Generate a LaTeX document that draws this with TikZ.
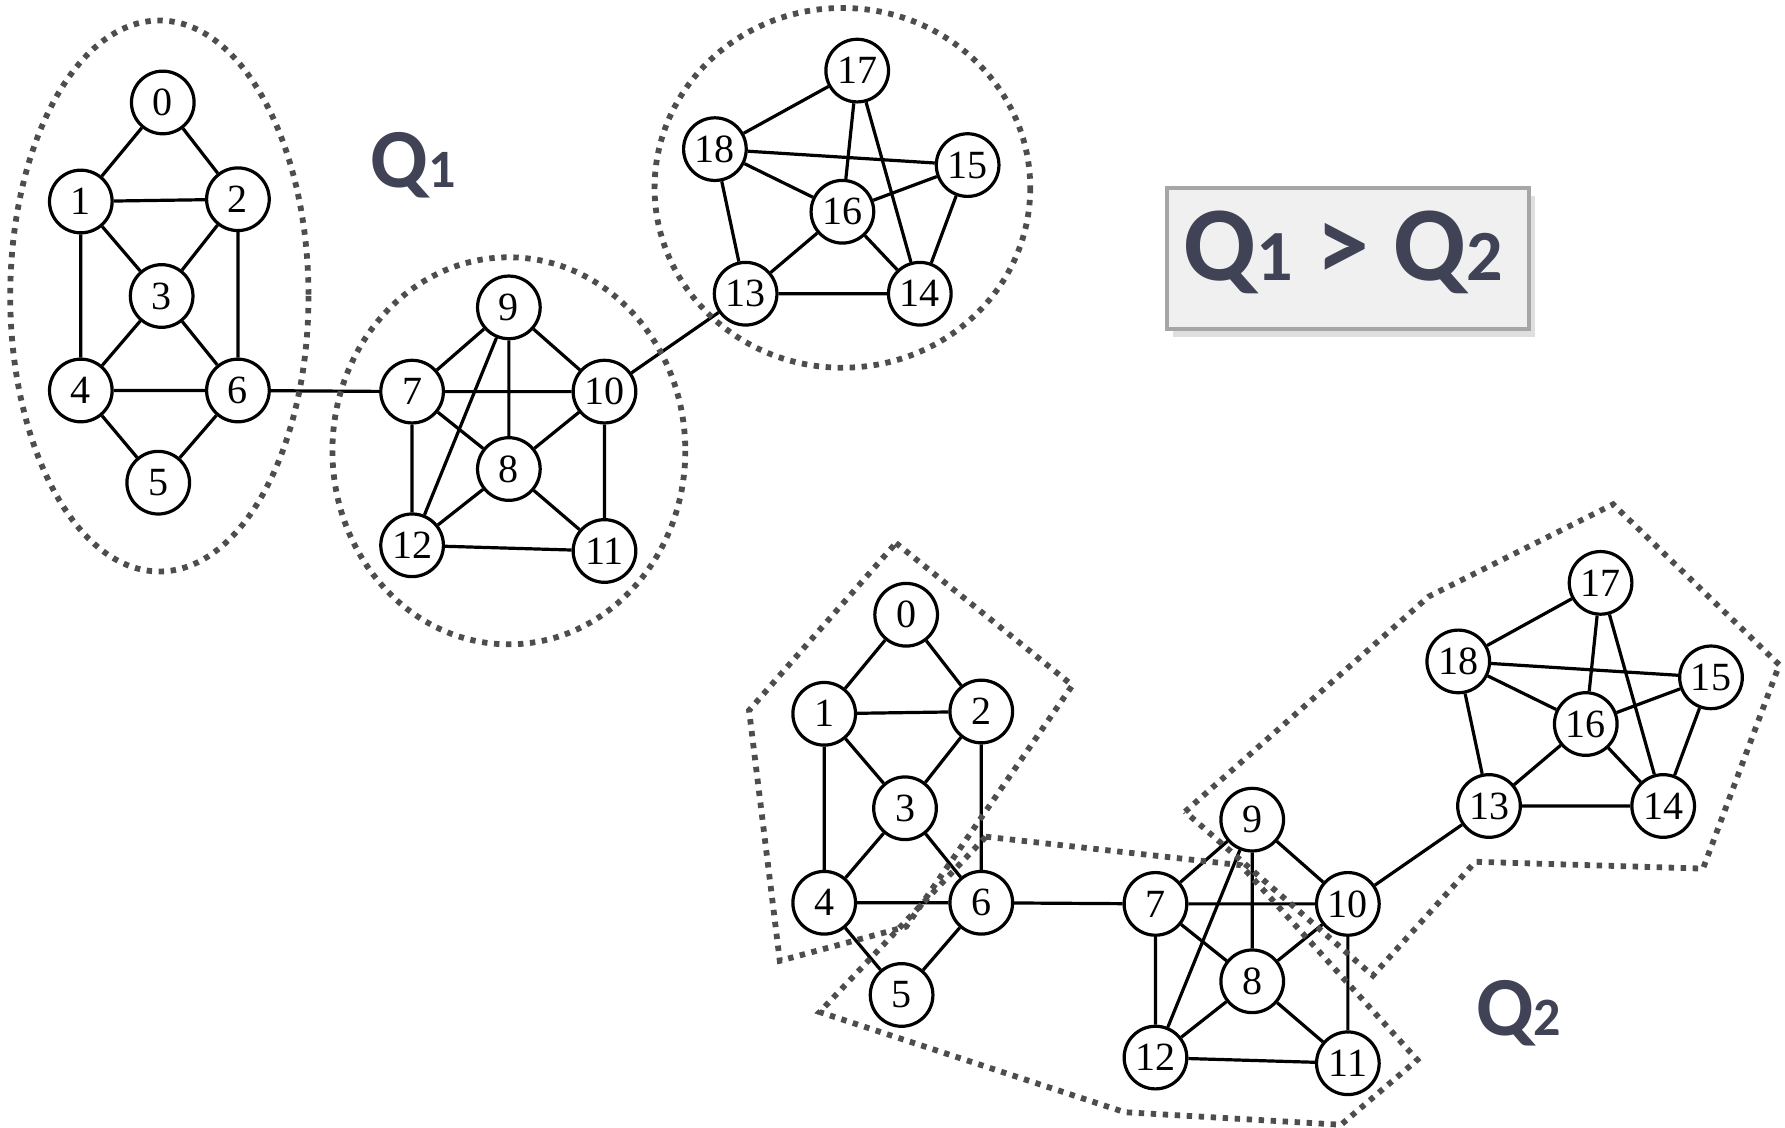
\documentclass[tikz,border=0pt]{standalone}
\usepackage{fontspec}
\setmainfont{Liberation Serif}
\newfontfamily\rotulo{Carlito}
\usepackage{xcolor}
\usetikzlibrary{shadows}

\definecolor{ardosia}{HTML}{404256}
\definecolor{tracejado}{HTML}{4D4D4D}
\definecolor{caixa}{HTML}{F0F0F0}
\definecolor{borda}{HTML}{A6A6A6}

% Grafo de 19 vertices (desenhado duas vezes)
\newcommand{\grafo}{%
  % Grupo 0 a 6
  \node[vertice] (v0) at (143,90) {0};
  \node[vertice] (v1) at (71,177) {1};
  \node[vertice] (v2) at (209,175) {2};
  \node[vertice] (v3) at (142,260) {3};
  \node[vertice] (v4) at (71,343) {4};
  \node[vertice] (v6) at (209,343) {6};
  \node[vertice] (v5) at (139,424) {5};
  \draw[aresta] (v0) -- (v1) -- (v4) -- (v5) -- (v6) -- (v2) -- (v0);
  \draw[aresta] (v1) -- (v2) -- (v3) -- (v1);
  \draw[aresta] (v3) -- (v4) -- (v6) -- (v3);
  % Grupo 7 a 12
  \node[vertice] (v9) at (447,270) {9};
  \node[vertice] (v7) at (362,344) {7};
  \node[vertice] (v10) at (531,344) {10};
  \node[vertice] (v8) at (447,412) {8};
  \node[vertice] (v12) at (362,479) {12};
  \node[vertice] (v11) at (531,484) {11};
  \draw[aresta] (v9) -- (v7) -- (v12) -- (v11) -- (v10) -- (v9) -- (v8) -- (v7) -- (v10) -- (v8) -- (v11);
  \draw[aresta] (v8) -- (v12) -- (v9);
  % Grupo 13 a 18
  \node[vertice] (v17) at (753,62) {17};
  \node[vertice] (v18) at (628,131) {18};
  \node[vertice] (v15) at (850,145) {15};
  \node[vertice] (v16) at (740,186) {16};
  \node[vertice] (v13) at (655,258) {13};
  \node[vertice] (v14) at (808,258) {14};
  \draw[aresta] (v17) -- (v18) -- (v13) -- (v14) -- (v15) -- (v18) -- (v16) -- (v17) -- (v14) -- (v16) -- (v13);
  \draw[aresta] (v16) -- (v15);
  % Ligacoes entre grupos
  \draw[aresta] (v6) -- (v7);
  \draw[aresta] (v10) -- (v13);
}

\begin{document}
\begin{tikzpicture}[x=0.01cm, y=-0.01cm,
  vertice/.style={circle, draw, line width=0.8pt, minimum size=0.55cm, inner sep=0pt, font=\fontsize{10}{10}\selectfont},
  aresta/.style={line width=0.8pt},
  regiao/.style={draw=tracejado, line width=1.45pt, dash pattern=on 1.35pt off 1.65pt},
  rotuloQ/.style={text=ardosia, font=\rotulo\bfseries, anchor=base west, inner sep=0pt}]

\useasboundingbox (0,0) rectangle (1568,990);

% Particao Q1
\begin{scope}[name prefix=a-]
  \grafo
\end{scope}
\draw[regiao] (140,260) ellipse [x radius=131, y radius=242];
\draw[regiao] (447,396) ellipse [x radius=155, y radius=170];
\draw[regiao] (740,165) ellipse [x radius=165, y radius=158];
\node[rotuloQ] (q1) at (325,165) {{\fontsize{21}{24}\selectfont Q}{\fontsize{13.5}{15}\selectfont 1}};

% Particao Q2
\begin{scope}[shift={(653,450)}, name prefix=b-]
  \grafo
\end{scope}
\draw[regiao] (787,477) -- (942,602) -- (796,814) -- (685,844) -- (658,624) -- cycle;
\draw[regiao] (866,735) -- (1090,760) -- (1245,931) -- (1178,988) -- (988,977) -- (720,889) -- cycle;
\draw[regiao] (1041,713) -- (1255,524) -- (1417,443) -- (1563,584) -- (1496,763) -- (1296,757) -- (1206,857) -- cycle;
\node[rotuloQ] (q2) at (1296,910) {{\fontsize{21}{24}\selectfont Q}{\fontsize{13.5}{15}\selectfont 2}};

% Caixa de comparacao
\draw[draw=borda, line width=0.9pt, fill=caixa, drop shadow={shadow xshift=1.5pt, shadow yshift=-2pt, opacity=0.25}] (1025,165) rectangle (1343,289);
\node[rotuloQ] (comp) at (1039,246) {{\fontsize{26.5}{30}\selectfont Q}{\fontsize{18}{20}\selectfont 1}{\fontsize{26.5}{30}\selectfont\ > Q}{\fontsize{18}{20}\selectfont 2}};

\end{tikzpicture}
\end{document}
